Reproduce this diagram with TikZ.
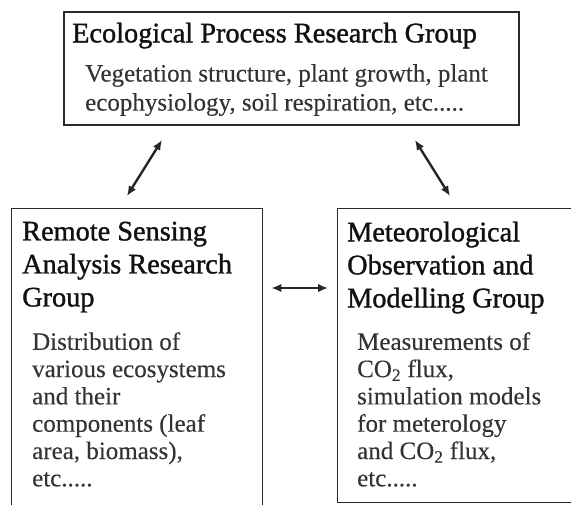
\documentclass[tikz,border=0pt]{standalone}
\usepackage{fontspec}
\setmainfont{Liberation Serif}
\newfontfamily\titlefont{Liberation Serif}[FakeBold=1.2]
\newfontfamily\bodyfont{Liberation Serif}[FakeBold=0.2]
\usetikzlibrary{arrows.meta}
\definecolor{boxline}{HTML}{2A2A2A}
\definecolor{bodytext}{HTML}{333333}
\definecolor{titletext}{HTML}{111111}
\tikzset{
  groupbox/.style={draw=boxline, line width=1.4pt, fill=none},
  topbox/.style={draw=boxline, line width=2pt, fill=none},
  titlestyle/.style={anchor=north west, inner sep=0pt, align=left, text=titletext,
    font=\titlefont\fontsize{28.3}{33}\selectfont},
  bodystyle/.style={anchor=north west, inner sep=0pt, align=left, text=bodytext,
    font=\bodyfont\fontsize{25}{27.3}\selectfont},
  link/.style={{Latex[length=10pt,width=8.5pt]}-{Latex[length=10pt,width=8.5pt]}, line width=2.4pt, draw=black!85}
}
\begin{document}
\begin{tikzpicture}[x=1pt,y=-1pt]
\useasboundingbox (0,0) rectangle (571,504);
\clip (0,0) rectangle (571,504);
% boxes
\node[topbox, minimum width=455pt, minimum height=113pt, anchor=north west, inner sep=0pt] (top) at (63,11) {};
\node[groupbox, minimum width=251pt, minimum height=310pt, anchor=north west, inner sep=0pt] (left) at (11,208) {};
\node[groupbox, minimum width=245pt, minimum height=294pt, anchor=north west, inner sep=0pt] (right) at (337,208) {};
% texts
\node[titlestyle] (toptitle) at (72,22.5) {Ecological Process Research Group};
\node[bodystyle, font=\bodyfont\fontsize{25}{29}\selectfont] (topbody) at (85,64) {Vegetation structure, plant growth, plant\\ecophysiology, soil respiration, etc.....};
\node[titlestyle] (lefttitle) at (22,221.5) {Remote Sensing\\Analysis Research\\Group};
\node[bodystyle] (leftbody) at (32,332) {Distribution of\\various ecosystems\\and their\\components (leaf\\area, biomass),\\etc.....};
\node[titlestyle] (righttitle) at (347,221.5) {Meteorological\\Observation and\\Modelling Group};
\node[bodystyle] (rightbody) at (357,332) {Measurements of\\CO\textsubscript{2} flux,\\simulation models\\for meterology\\and CO\textsubscript{2} flux,\\etc.....};
% connectors
\draw[link] ([xshift=99pt,yshift=-14pt]top.south west) -- ([xshift=116pt,yshift=12pt]left.north west);
\draw[link] ([xshift=352pt,yshift=-14pt]top.south west) -- ([xshift=113pt,yshift=12pt]right.north west);
\draw[link] ([xshift=8pt,yshift=-80pt]left.north east) -- ([xshift=-9pt,yshift=-80pt]right.north west);
\end{tikzpicture}
\end{document}
